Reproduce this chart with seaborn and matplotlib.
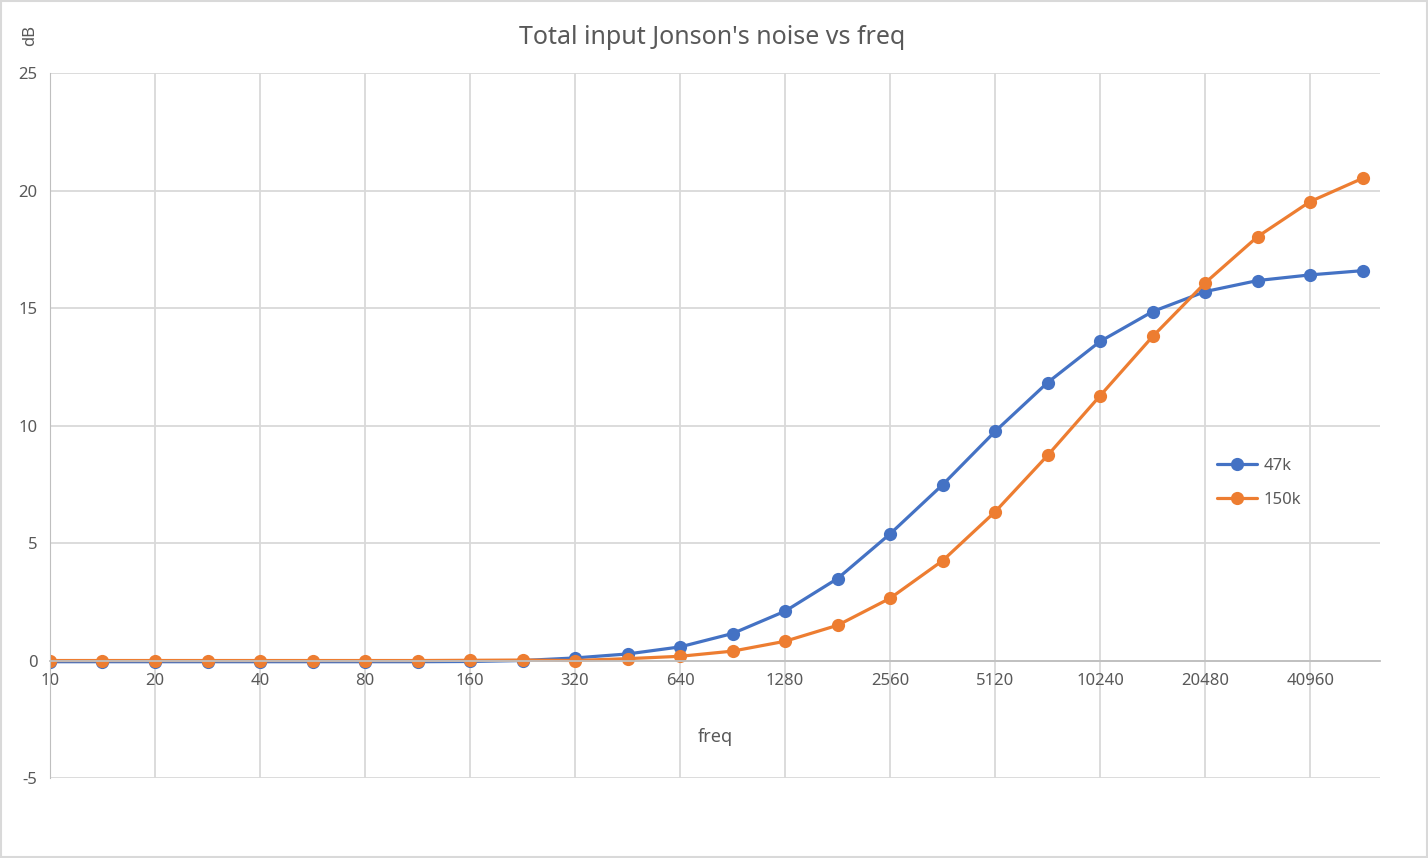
import numpy as np
import pandas as pd
import matplotlib
matplotlib.use('Agg')
import matplotlib.pyplot as plt
import seaborn as sns

# ─── Data ────────────────────────────────────────────────────────────────────
freq = [10, 14.1, 20, 28.3, 40, 56.6, 80, 113, 160, 226, 320, 453, 640, 905,
        1280, 1810, 2560, 3620, 5120, 7241, 10240, 14482, 20480, 28963, 40960, 57926]
tick_labels = ['10', '20', '40', '80', '160', '320', '640', '1280', '2560',
               '5120', '10240', '20480', '40960']
db_47k = [-0.05, -0.05, -0.05, -0.05, -0.05, -0.05, -0.05, -0.05, -0.04, 0.0,
          0.11, 0.28, 0.58, 1.15, 2.10, 3.49, 5.39, 7.48, 9.75, 11.83,
          13.58, 14.85, 15.70, 16.17, 16.41, 16.59]
db_150k = [0.0, 0.0, 0.0, 0.0, 0.0, 0.0, 0.0, 0.0, 0.01, 0.02,
           0.0, 0.08, 0.18, 0.40, 0.82, 1.50, 2.65, 4.25, 6.33, 8.73,
           11.27, 13.79, 16.07, 18.04, 19.53, 20.52]
series_names = ['47k', '150k']

idx = np.arange(len(freq))
df = pd.DataFrame({
    'idx': np.concatenate([idx, idx]),
    'dB': db_47k + db_150k,
    'series': [series_names[0]] * len(freq) + [series_names[1]] * len(freq),
})

# ─── Style ───────────────────────────────────────────────────────────────────
sns.set_style('white')
plt.rcParams['font.family'] = ['Noto Sans', 'DejaVu Sans']
plt.rcParams['axes.unicode_minus'] = False
text_col = '#595959'
grid_col = '#d9d9d9'

fig = plt.figure(figsize=(14.28, 8.58), dpi=100)
ax = fig.add_axes([0.035, 0.0932, 0.9314, 0.8217])

sns.lineplot(data=df, x='idx', y='dB', hue='series', hue_order=series_names,
             palette=['#4472C4', '#ED7D31'], marker='o', markersize=9.5,
             markeredgewidth=0, linewidth=2.3, ax=ax)

ax.set_xlim(0, 25.33)
ax.set_ylim(-5, 25)
ax.set_yticks(range(-5, 26, 5))
ax.set_xticks(idx[::2])
ax.set_xticklabels(tick_labels)
ax.tick_params(axis='both', length=0, labelsize=12, colors=text_col)
ax.tick_params(axis='x', pad=9)
ax.tick_params(axis='y', pad=9)

ax.grid(True, color=grid_col, linewidth=1.3)
ax.set_axisbelow(True)
for s in ['top', 'right']:
    ax.spines[s].set_visible(False)
ax.spines['left'].set_color('#bfbfbf')
ax.spines['bottom'].set_color('#bfbfbf')
ax.spines['bottom'].set_position(('data', 0))
ax.spines['bottom'].set_linewidth(1.3)

ax.set_xlabel('freq', fontsize=13, color=text_col, labelpad=28)
ax.set_ylabel('')
fig.text(30 / 1428, 1 - 35 / 858, 'dB', rotation=90, fontsize=12,
         color=text_col, ha='center', va='center')
fig.text(712 / 1428, 1 - 37 / 858, "Total input Jonson's noise vs freq",
         fontsize=18, color=text_col, ha='center', va='center')

leg = ax.legend(loc='upper left', bbox_to_anchor=(0.866, 0.475), frameon=False,
                fontsize=12, handlelength=2.4, labelspacing=1.05,
                handletextpad=0.4)
for t in leg.get_texts():
    t.set_color(text_col)

fig.patches.append(plt.Rectangle((0.001, 0.001), 0.998, 0.998, transform=fig.transFigure,
                                 fill=False, edgecolor=grid_col, linewidth=1.5))

plt.savefig('out.png', dpi=100)
plt.close()
